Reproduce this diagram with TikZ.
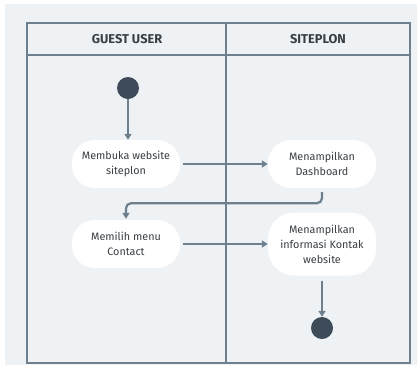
\documentclass[tikz,border=0pt]{standalone}
\usepackage{fontspec}
\setmainfont{Fira Sans}
\usetikzlibrary{arrows.meta}
\definecolor{bgpanel}{HTML}{EEF2F5}
\definecolor{laneline}{HTML}{6E7F8D}
\definecolor{dot}{HTML}{3E4B58}
\definecolor{txt}{HTML}{3A3F44}
\tikzset{
  lane/.style={draw=laneline, line width=2.4pt},
  act/.style={fill=white, draw=none, rounded corners=23pt, minimum width=108pt,
    minimum height=48pt, align=center, text=txt, font=\fontsize{10.8}{15}\selectfont},
  flow/.style={draw=laneline, line width=2.2pt, -{Triangle[length=6pt,width=7pt]}},
  terminal/.style={circle, fill=dot, minimum size=22pt, inner sep=0pt},
  head/.style={text=txt, font=\fontsize{12.8}{14}\selectfont\bfseries}
}
\begin{document}
\begin{tikzpicture}[x=1pt, y=-1pt]
  % page and panel
  \fill[white] (0,0) rectangle (417,365);
  \fill[bgpanel] (5,4) rectangle (417,365);
  \useasboundingbox (0,0) rectangle (417,365);

  % swimlanes
  \draw[lane] (27,23) rectangle (410,363);
  \draw[lane] (27,55) -- (410,55);
  \draw[lane] (226,23) -- (226,363);
  \node[head] (h1) at (127,39) {GUEST USER};
  \node[head] (h2) at (318,39) {SITEPLON};

  % activities
  \node[terminal] (start) at (128,88) {};
  \node[act] (a1) at (126,164) {Membuka website\\siteplon};
  \node[act] (a2) at (322,164) {Menampilkan\\Dashboard};
  \node[act] (a3) at (126,244) {Memilih menu\\Contact};
  \node[act, minimum height=63pt, rounded corners=26pt] (a4) at (322,244) {Menampilkan\\informasi Kontak\\website};
  \node[terminal] (end) at (322,328) {};

  % control flow
  \draw[flow] (start) -- (start |- a1.north);
  \draw[flow] ([xshift=3pt]a1.east) -- (a2.west);
  \draw[flow, rounded corners=5pt] ([yshift=-4pt]a2.south) -- ++(0,11) -| ([yshift=1pt]a3.north);
  \draw[flow] ([xshift=3pt]a3.east) -- (a4.west |- a3.east);
  \draw[flow] ([yshift=-5pt]a4.south) -- (end.north);
\end{tikzpicture}
\end{document}
